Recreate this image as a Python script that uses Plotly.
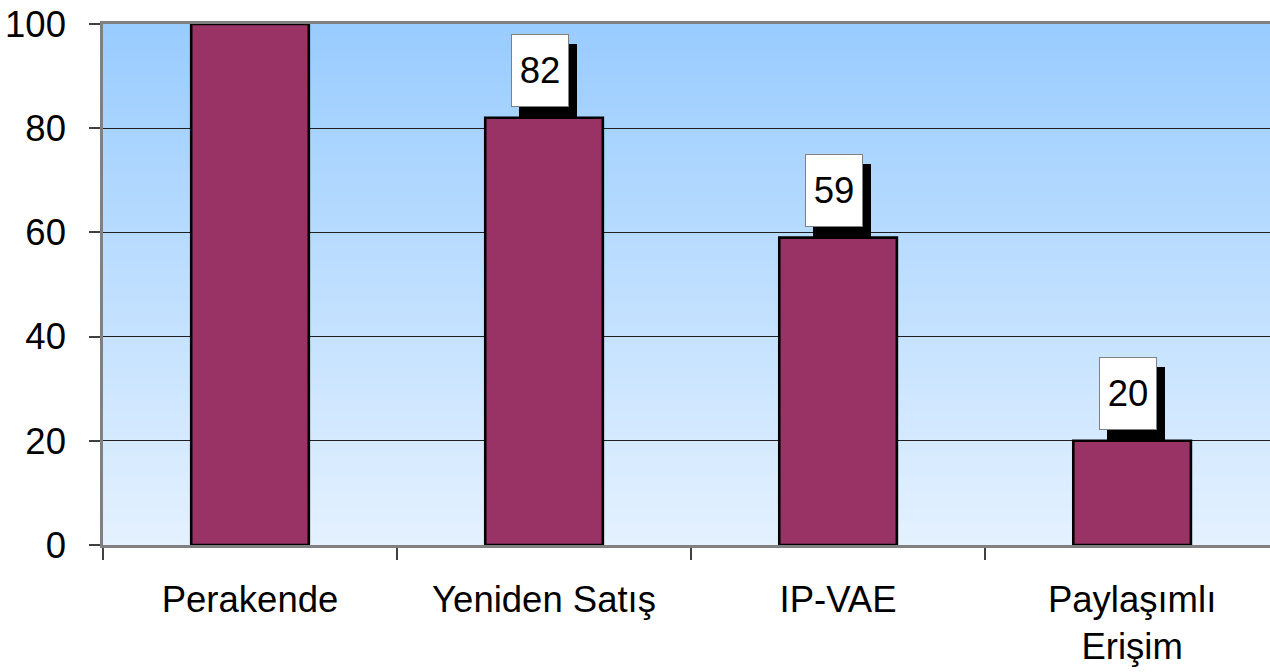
import plotly.graph_objects as go

categories = ["Perakende", "Yeniden Satış", "IP-VAE", "Paylaşımlı<br>Erişim"]
values = [100, 82, 59, 20]
y_ticks = [0, 20, 40, 60, 80, 100]

FONT = "Liberation Sans, Arial, sans-serif"
FS = 36.5

fig = go.Figure()
fig.add_trace(go.Bar(
    x=categories, y=values, width=0.4,
    marker=dict(color="#993366", line=dict(color="black", width=2.6)),
    hoverinfo="skip",
))

# gradient background strips
n = 100
top = (153, 204, 255)
bot = (228, 241, 255)
shapes = []
for i in range(n):
    t = i / (n - 1)
    c = tuple(round(bot[k] + (top[k] - bot[k]) * t) for k in range(3))
    y0 = 100 * i / n
    y1 = 100 * (i + 1) / n + 0.5
    shapes.append(dict(type="rect", xref="paper", yref="y", x0=0, x1=1,
                       y0=y0, y1=min(y1, 100), layer="below",
                       fillcolor="rgb(%d,%d,%d)" % c, line=dict(width=0)))

annotations = []
for cat, v in zip(categories, values):
    if v >= 100:
        continue
    # shadow
    annotations.append(dict(x=cat, y=v, xref="x", yref="y", text=" ",
                            showarrow=False, yanchor="bottom", xanchor="center",
                            width=58, height=73, bgcolor="black", borderpad=0,
                            borderwidth=0, xshift=4, yshift=1,
                            font=dict(family=FONT, size=FS)))
    annotations.append(dict(x=cat, y=v, xref="x", yref="y", text=str(v),
                            showarrow=False, yanchor="bottom", xanchor="center",
                            width=56, height=71, bgcolor="white", borderpad=0,
                            bordercolor="#808080", borderwidth=1,
                            xshift=-4, yshift=11,
                            font=dict(family=FONT, size=FS, color="black")))

fig.update_layout(
    width=1270, height=672,
    margin=dict(l=103, r=0, t=24, b=127, autoexpand=False),
    paper_bgcolor="white", plot_bgcolor="rgba(0,0,0,0)",
    showlegend=False, bargap=0.6,
    font=dict(family=FONT, size=FS, color="black"),
    shapes=shapes, annotations=annotations,
    xaxis=dict(type="category", range=[-0.5, 3.469], tickson="boundaries",
               ticks="outside", ticklen=12, tickwidth=1.5, tickcolor="#404040",
               showline=True, linecolor="#808080", linewidth=3, mirror=True,
               showgrid=False, ticklabelstandoff=20, automargin=False,
               ticklabeloverflow="allow",
               tickfont=dict(family=FONT, size=FS, color="black")),
    yaxis=dict(range=[0, 100], tickvals=y_ticks, ticks="outside", ticklen=11,
               tickwidth=1.5, tickcolor="#404040",
               showline=True, linecolor="#808080", linewidth=2.5,
               showgrid=True, gridcolor="#202020", gridwidth=1, zeroline=False,
               ticklabelstandoff=16, automargin=False,
               ticklabeloverflow="allow",
               tickfont=dict(family=FONT, size=FS, color="black")),
)

fig.write_html(
    "out.html",
    config={"displayModeBar": False},
    post_script="document.body.style.margin='0';document.body.style.overflow='hidden';",
)
